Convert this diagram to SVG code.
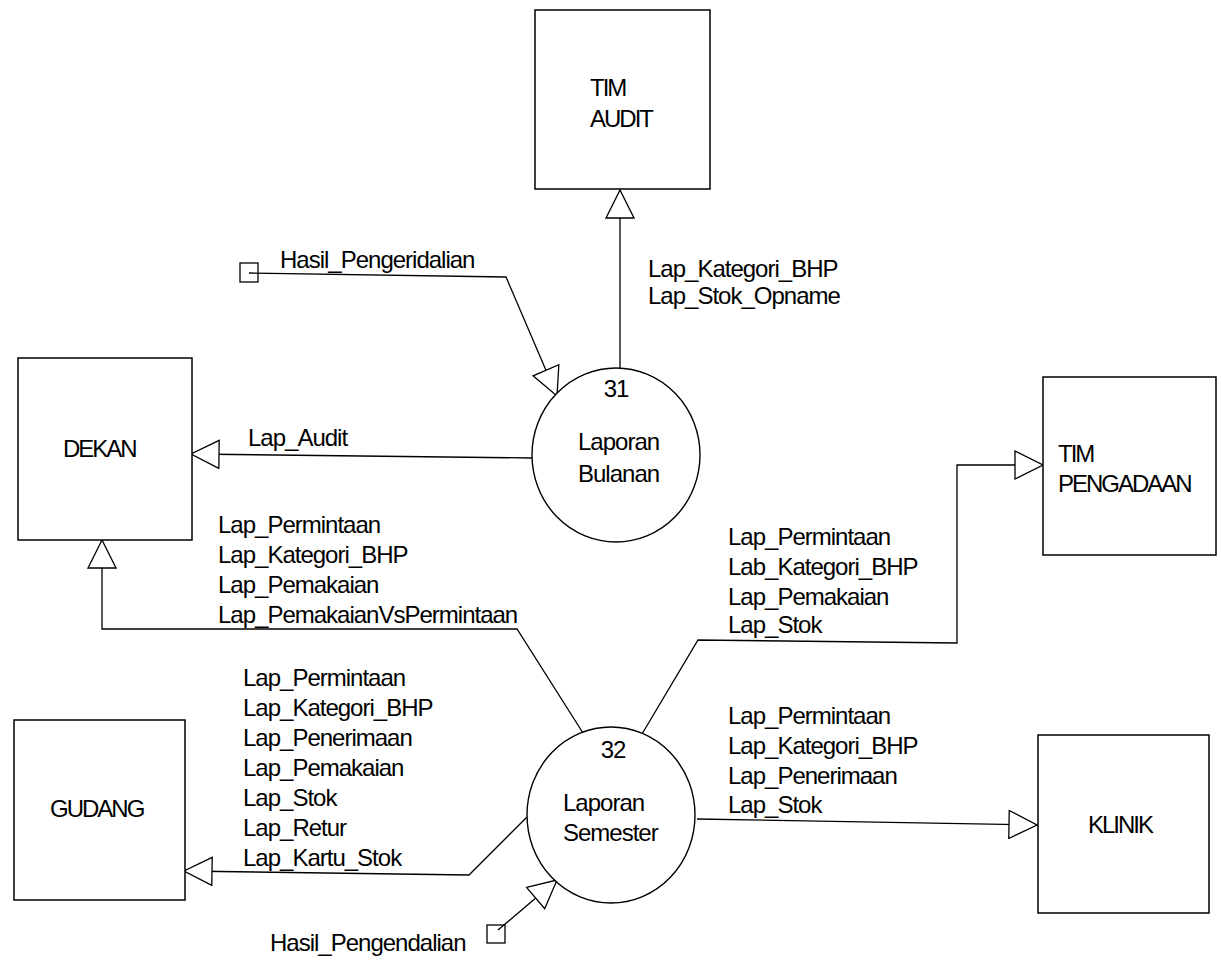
<svg xmlns="http://www.w3.org/2000/svg" width="1221" height="961" viewBox="0 0 1221 961">
<style>
.box{fill:#fff;stroke:#000;stroke-width:1.5}
.proc{fill:#fff;stroke:#000;stroke-width:1.4}
.ext{fill:none;stroke:#000;stroke-width:1.3}
.flow{fill:none;stroke:#000;stroke-width:1.3;marker-end:url(#arr)}
text{font-family:"Liberation Sans",Arial,sans-serif;font-size:24px;letter-spacing:-1px;fill:#000}
.nl{letter-spacing:-2px}
</style>
<defs>
<marker id="arr" viewBox="0 0 30 30" markerWidth="30" markerHeight="30" markerUnits="userSpaceOnUse" refX="29" refY="15" orient="auto">
<path d="M1,1 L29,15 L1,29 Z" fill="#fff" stroke="#000" stroke-width="1.3"/>
</marker>
</defs>
<rect width="1221" height="961" fill="#fff"/>

<g id="connectors">
<rect class="ext" x="240" y="263" width="18" height="19"/>
<polyline class="flow" points="249,273 506,277 557,396"/>
<line class="flow" x1="620" y1="369" x2="620" y2="190"/>
<line class="flow" x1="532" y1="458" x2="191" y2="454"/>
<polyline class="flow" points="583,733 517,629 102,629 102,540"/>
<polyline class="flow" points="642,734 698,640 957,643 957,465 1043,465"/>
<polyline class="flow" points="527,817 469,875 184,871"/>
<line class="flow" x1="697" y1="819" x2="1037" y2="825"/>
<rect class="ext" x="487" y="925" width="18" height="18"/>
<line class="flow" x1="498" y1="930" x2="557" y2="880"/>

<text x="280" y="268">Hasil_Pengeridalian</text>
<text x="648" y="277">Lap_Kategori_BHP</text>
<text x="648" y="304">Lap_Stok_Opname</text>
<text x="248" y="446">Lap_Audit</text>
<text x="218" y="533">Lap_Permintaan</text>
<text x="218" y="563">Lap_Kategori_BHP</text>
<text x="218" y="593">Lap_Pemakaian</text>
<text x="218" y="623">Lap_PemakaianVsPermintaan</text>
<text x="728" y="545">Lap_Permintaan</text>
<text x="728" y="575">Lab_Kategori_BHP</text>
<text x="728" y="605">Lap_Pemakaian</text>
<text x="728" y="633">Lap_Stok</text>
<text x="243" y="686">Lap_Permintaan</text>
<text x="243" y="716">Lap_Kategori_BHP</text>
<text x="243" y="746">Lap_Penerimaan</text>
<text x="243" y="776">Lap_Pemakaian</text>
<text x="243" y="806">Lap_Stok</text>
<text x="243" y="836">Lap_Retur</text>
<text x="243" y="866">Lap_Kartu_Stok</text>
<text x="728" y="724">Lap_Permintaan</text>
<text x="728" y="754">Lap_Kategori_BHP</text>
<text x="728" y="784">Lap_Penerimaan</text>
<text x="728" y="813">Lap_Stok</text>
<text x="270" y="951">Hasil_Pengendalian</text>
</g>

<g id="tim-audit">
<rect class="box" x="535" y="10" width="175" height="179"/>
<text class="nl" x="590" y="96">TIM</text>
<text class="nl" x="590" y="127">AUDIT</text>
</g>
<g id="dekan">
<rect class="box" x="18" y="358" width="174" height="182"/>
<text class="nl" x="63" y="457">DEKAN</text>
</g>
<g id="tim-pengadaan">
<rect class="box" x="1043" y="377" width="173" height="178"/>
<text class="nl" x="1058" y="462">TIM</text>
<text class="nl" x="1058" y="492">PENGADAAN</text>
</g>
<g id="gudang">
<rect class="box" x="14" y="720" width="171" height="180"/>
<text class="nl" x="50" y="817">GUDANG</text>
</g>
<g id="klinik">
<rect class="box" x="1038" y="735" width="171" height="178"/>
<text class="nl" x="1088" y="833">KLINIK</text>
</g>
<g id="proc-31">
<ellipse class="proc" cx="616" cy="455" rx="84" ry="87"/>
<text x="616" y="397" text-anchor="middle">31</text>
<text x="578" y="450">Laporan</text>
<text x="578" y="482">Bulanan</text>
</g>
<g id="proc-32">
<ellipse class="proc" cx="611" cy="815" rx="84" ry="88"/>
<text x="613" y="758" text-anchor="middle">32</text>
<text x="563" y="811">Laporan</text>
<text x="563" y="841">Semester</text>
</g>
</svg>
